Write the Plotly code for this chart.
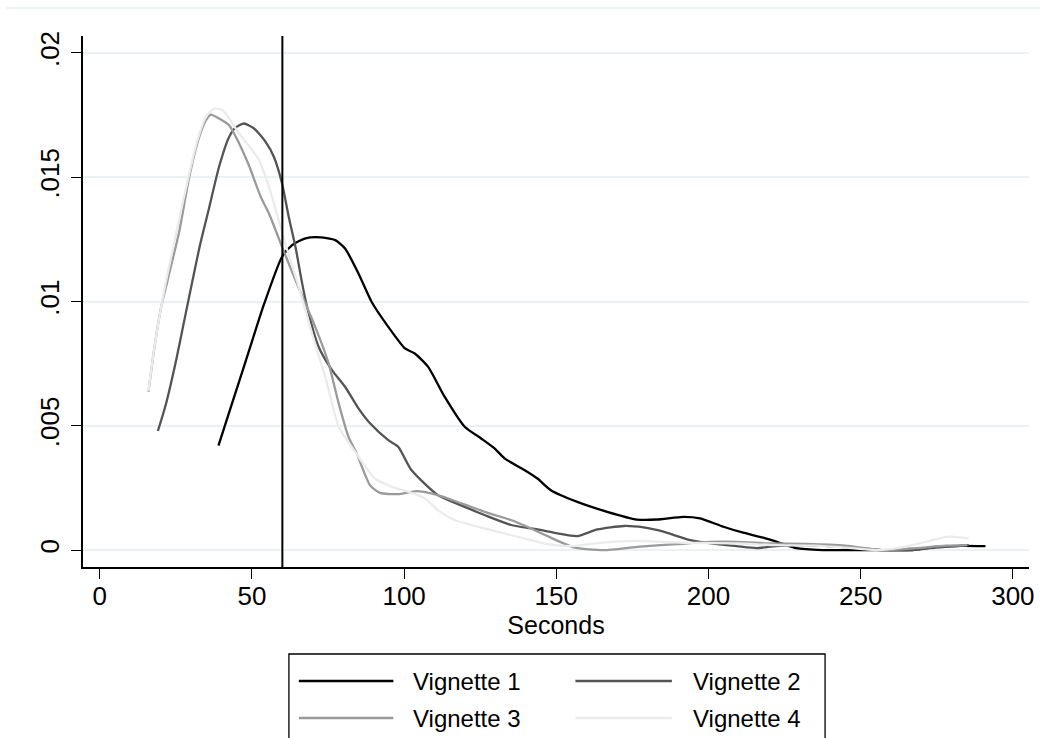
import plotly.graph_objects as go

# ---- data ----
series_names = ["Vignette 1", "Vignette 2", "Vignette 3", "Vignette 4"]
series_colors = ["#000000", "#545454", "#9a9a9a", "#ebebeb"]

v1_x = [39.0, 44.0, 49.0, 54.0, 59.9, 63.2, 67.6, 72.5, 77.4, 80.6, 85.0, 89.3, 94.8, 100.3, 103.5, 107.9,
        113.3, 119.9, 125.3, 129.7, 133.0, 139.5, 143.8, 148.2, 156.9, 166.7, 176.5, 183.0, 191.8, 197.2,
        204.9, 211.4, 218.0, 224.5, 228.8, 237.5, 250.0, 260.0, 267.0, 274.6, 283.3, 291.0]
v1_y = [0.0042, 0.0061, 0.0080, 0.0099, 0.0118, 0.01227, 0.01254, 0.01258, 0.01247, 0.01213, 0.01113,
        0.00999, 0.00898, 0.00811, 0.00791, 0.00737, 0.00617, 0.00496, 0.00449, 0.00409, 0.00369,
        0.00322, 0.00288, 0.00241, 0.00194, 0.00154, 0.00123, 0.00123, 0.00134, 0.00128, 0.00094,
        0.00070, 0.00050, 0.00025, 0.00008, 0.0, 0.0, 0.0, 0.0, 0.00013, 0.00017, 0.00016]

v2_x = [19.1, 21.8, 25.1, 27.8, 30.5, 33.0, 36.0, 39.2, 42.5, 44.7, 47.4, 50.7, 54.5, 57.2, 59.9, 62.1,
        64.3, 66.5, 68.1, 71.9, 76.3, 80.6, 85.0, 88.8, 94.8, 98.1, 102.4, 111.1, 119.9, 126.4, 135.1,
        143.8, 150.4, 156.9, 163.5, 172.2, 178.7, 185.2, 194.0, 202.7, 209.2, 215.8, 222.3, 232.0,
        243.0, 250.6, 257.0, 267.0, 274.6, 285.5]
v2_y = [0.00479, 0.0059, 0.00764, 0.00925, 0.01086, 0.0123, 0.0138, 0.01542, 0.01662, 0.0170, 0.01716,
        0.01696, 0.01642, 0.01582, 0.01475, 0.0134, 0.0122, 0.01073, 0.00979, 0.00818, 0.00724,
        0.00657, 0.0057, 0.0051, 0.00442, 0.00415, 0.00322, 0.00221, 0.00174, 0.00141, 0.00101,
        0.00083, 0.00067, 0.00056, 0.00083, 0.00097, 0.00091, 0.00074, 0.00040, 0.00024, 0.00016,
        0.00008, 0.00016, 0.00020, 0.00013, 0.00007, 0.0, 0.0, 0.0001, 0.0002]

v3_x = [16.0, 18.0, 20.2, 22.3, 26.2, 29.4, 32.7, 34.9, 36.5, 39.2, 42.5, 45.8, 49.0, 52.9, 55.6, 59.9,
        64.3, 70.8, 75.2, 78.5, 81.7, 84.4, 88.8, 92.1, 98.1, 104.1, 111.1, 118.8, 127.5, 135.1, 141.7,
        147.1, 155.8, 165.6, 176.5, 189.6, 200.5, 209.2, 220.1, 232.0, 245.0, 257.0, 268.0, 278.0, 285.0]
v3_y = [0.00637, 0.00818, 0.00979, 0.01086, 0.01287, 0.01501, 0.01662, 0.01729, 0.01752, 0.01736,
        0.01709, 0.01636, 0.01548, 0.01421, 0.01354, 0.0122, 0.01086, 0.00898, 0.00751, 0.0059,
        0.00456, 0.00389, 0.00261, 0.0023, 0.00225, 0.00237, 0.00221, 0.00188, 0.0015, 0.00121,
        0.00087, 0.00056, 0.00011, 0.0, 0.00013, 0.00024, 0.00033, 0.00033, 0.00027, 0.00025,
        0.00018, 0.0, 0.00008, 0.00018, 0.0002]

v4_x = [16.0, 18.0, 21.2, 25.1, 28.9, 32.1, 34.9, 37.6, 40.3, 42.5, 45.8, 50.1, 52.3, 55.6, 58.8, 61.6,
        65.4, 69.7, 74.1, 78.5, 83.9, 90.4, 95.9, 101.3, 106.8, 111.1, 116.6, 124.2, 133.0, 141.7,
        147.1, 154.7, 165.0, 176.5, 192.9, 209.2, 222.3, 235.0, 245.0, 255.0, 263.0, 271.3, 278.9, 285.5]
v4_y = [0.0064, 0.0082, 0.01046, 0.01274, 0.01488, 0.01649, 0.01743, 0.01776, 0.0177, 0.01736,
        0.01676, 0.01609, 0.01569, 0.01461, 0.01327, 0.01207, 0.01059, 0.00872, 0.00697, 0.00496,
        0.00395, 0.00288, 0.00255, 0.00235, 0.00208, 0.00161, 0.00121, 0.00094, 0.00067, 0.0004,
        0.00024, 0.00016, 0.0003, 0.00037, 0.00029, 0.00027, 0.0002, 0.00018, 0.0001, 0.0, 0.0001,
        0.00033, 0.00054, 0.00047]

x_tickvals = [0, 50, 100, 150, 200, 250, 300]
y_tickvals = [0, 0.005, 0.01, 0.015, 0.02]
y_ticktext = ["0", ".005", ".01", ".015", ".02"]
cutoff_seconds = 60
x_title = "Seconds"

series = [(v1_x, v1_y), (v2_x, v2_y), (v3_x, v3_y), (v4_x, v4_y)]

FONT = "Liberation Sans, Arial, Helvetica, sans-serif"

fig = go.Figure()
for (xs, ys), name, col in zip(series, series_names, series_colors):
    fig.add_trace(go.Scatter(x=xs, y=ys, mode="lines", name=name,
                             line=dict(color=col, width=2.3, shape="spline", smoothing=0.6),
                             showlegend=False))

fig.add_shape(type="line", xref="x", yref="paper", x0=cutoff_seconds, x1=cutoff_seconds,
              y0=0, y1=1, line=dict(color="black", width=2))

W, H = 1045, 738
ml, mr, mt, mb = 83, 11, 36, 171
pw, ph = W - ml - mr, H - mt - mb


def px2paper(px, py):
    return (px - ml) / pw, (H - mb - py) / ph


# faint outer frame line at the top
x0p, yp = px2paper(6, 8)
x1p, _ = px2paper(1045, 8)
fig.add_shape(type="line", xref="paper", yref="paper", x0=x0p, x1=x1p, y0=yp, y1=yp,
              line=dict(color="#eaf2f3", width=2))

# manual legend (2 columns)
bx0, by0 = px2paper(290, 654)
bx1, by1 = px2paper(829, 760)
fig.add_shape(type="rect", xref="paper", yref="paper", x0=bx0, x1=bx1, y0=by1, y1=by0,
              line=dict(color="black", width=1.3), fillcolor="white")
col_line = [(300, 395, 413), (578, 675, 694)]
row_y = [681, 718]
for i, (name, col) in enumerate(zip(series_names, series_colors)):
    c, r = i % 2, i // 2
    lx0, lx1, tx = col_line[c]
    ax0, ay = px2paper(lx0, row_y[r])
    ax1, _ = px2paper(lx1, row_y[r])
    fig.add_shape(type="line", xref="paper", yref="paper", x0=ax0, x1=ax1, y0=ay, y1=ay,
                  line=dict(color=col, width=2.3))
    txp, _ = px2paper(tx, row_y[r])
    fig.add_annotation(xref="paper", yref="paper", x=txp, y=ay, text=name, showarrow=False,
                       xanchor="left", yanchor="middle", font=dict(family=FONT, size=24, color="black"))

fig.update_layout(
    width=W, height=H,
    margin=dict(l=ml, r=mr, t=mt, b=mb, pad=0),
    paper_bgcolor="white", plot_bgcolor="white",
    font=dict(family=FONT, color="black"),
    showlegend=False,
    xaxis=dict(range=[-5.5, 305.3], tickvals=x_tickvals, ticks="outside", ticklen=10, tickwidth=1.3,
               tickcolor="black", showline=True, linecolor="black", linewidth=1.5,
               showgrid=False, zeroline=False, tickfont=dict(size=26, family=FONT),
               ticklabelstandoff=-5,
               title=dict(text=x_title, font=dict(size=25, family=FONT), standoff=2)),
    yaxis=dict(range=[-0.00068, 0.02068], tickvals=y_tickvals, ticktext=y_ticktext,
               ticks="outside", ticklen=10, tickwidth=1.3, tickcolor="black",
               showline=True, linecolor="black", linewidth=1.5,
               showgrid=True, gridcolor="#eaf2f3", gridwidth=2, zeroline=False,
               tickangle=-90, tickfont=dict(size=26, family=FONT), ticklabelstandoff=2),
)

fig.write_html("out.html")
